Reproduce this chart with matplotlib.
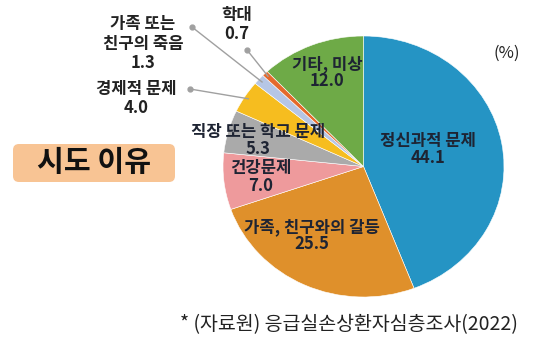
import matplotlib
matplotlib.use("Agg")
import numpy as np
import matplotlib.pyplot as plt
from matplotlib.patches import FancyBboxPatch

plt.rcParams['font.family'] = ['Noto Sans CJK KR', 'DejaVu Sans']

# suicide attempt reasons (%), clockwise from 12 o'clock
reasons = ["정신과적 문제", "가족, 친구와의 갈등", "건강문제", "직장 또는 학교 문제",
           "경제적 문제", "가족 또는\n친구의 죽음", "학대", "기타, 미상"]
shares = [44.1, 25.5, 7.0, 5.3, 4.0, 1.3, 0.7, 12.0]
colors = ["#2594c4", "#df902b", "#ee9a9c", "#aaaaaa",
          "#f6bd1f", "#b6c6e5", "#e5692b", "#6eaa47"]

# label anchor positions in pie units (inside labels) and leader dots (outside labels)
inside_pos = {0: (0.46, 0.13), 1: (-0.37, -0.53), 2: (-0.73, -0.08),
              3: (-0.75, 0.20), 7: (-0.26, 0.72)}
outside_pos = {4: (-1.62, 0.52), 5: (-1.57, 0.94), 6: (-0.90, 1.09)}
dot_pos = {4: (-1.236, 0.594), 5: (-1.221, 1.069), 6: (-0.829, 0.893)}

fig = plt.figure(figsize=(5.44, 3.48), dpi=100)

# background layer in pixel units for the title box and notes
bg = fig.add_axes([0, 0, 1, 1])
bg.set_xlim(0, 544)
bg.set_ylim(348, 0)
bg.axis('off')

box = FancyBboxPatch((13, 144), 162, 38, boxstyle="round,pad=0,rounding_size=6",
                     fc="#f8c494", ec="none")
bg.add_patch(box)
bg.text(94, 162, "시도 이유", fontsize=21, fontweight='bold', color="#111111",
        ha='center', va='center')
bg.text(507, 53, "(%)", fontsize=12, color="#222222", ha='center', va='center')
bg.text(349, 325, "* (자료원) 응급실손상환자심층조사(2022)", fontsize=14,
        color="#222222", ha='center', va='center')

# pie drawn in its own axes, stretched slightly wider than tall
ax = fig.add_axes([223 / 544, 1 - 297 / 348, 281 / 544, 261 / 348])
ax.pie(shares, colors=colors, startangle=90, counterclock=False, radius=1,
       wedgeprops=dict(edgecolor='white', linewidth=0.4))
ax.set_aspect('auto')
ax.set_xlim(-1, 1)
ax.set_ylim(-1, 1)
ax.axis('off')

cum = np.cumsum([0] + shares[:-1])
total = sum(shares)
for i, (name, val) in enumerate(zip(reasons, shares)):
    label = f"{name}\n{val:.1f}"
    if i in inside_pos:
        x, y = inside_pos[i]
        ax.text(x, y, label, fontsize=12, fontweight='bold', color="#1e2433",
                ha='center', va='center', linespacing=0.95, clip_on=False)
    else:
        mid = np.deg2rad(90 - 360 * (cum[i] + val / 2) / total)
        px, py = 0.97 * np.cos(mid), 0.97 * np.sin(mid)
        dx, dy = dot_pos[i]
        ax.plot([dx, px], [dy, py], color="#a0a0a0", lw=1, clip_on=False)
        ax.plot(dx, dy, 'o', color="#a0a0a0", ms=3.5, clip_on=False)
        x, y = outside_pos[i]
        ax.text(x, y, label, fontsize=12, fontweight='bold', color="#222222",
                ha='center', va='center', linespacing=1.1, clip_on=False)

fig.savefig("out.png", dpi=100)
